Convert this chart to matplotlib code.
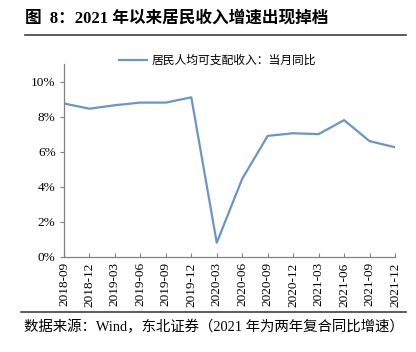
import matplotlib
matplotlib.use("Agg")
import matplotlib.pyplot as plt
from matplotlib.lines import Line2D

plt.rcParams['font.family'] = ['Liberation Serif', 'Noto Sans CJK SC']

# quarterly dates and income growth (%)
dates = ["2018-09", "2018-12", "2019-03", "2019-06", "2019-09", "2019-12", "2020-03",
         "2020-06", "2020-09", "2020-12", "2021-03", "2021-06", "2021-09", "2021-12"]
income_yoy = [8.75, 8.45, 8.65, 8.8, 8.8, 9.1, 0.8, 4.45, 6.9, 7.05, 7.0, 7.8, 6.6, 6.25]
yticks = [0, 2, 4, 6, 8, 10]

line_color = '#6A95C8'
spine_color = '#808080'

fig = plt.figure(figsize=(4.16, 3.52), dpi=100)
ax = fig.add_axes([0.1538, 0.2707, 0.7957, 0.5473])

x = list(range(len(dates)))
ax.plot(x, income_yoy, color=line_color, lw=1.6, label="居民人均可支配收入：当月同比")

ax.set_xlim(0, len(dates) - 1)
ax.set_ylim(0, 11)
ax.set_xticks(x)
ax.set_xticklabels(dates, rotation=90, fontsize=9.5)
ax.set_yticks(yticks)
ax.set_yticklabels([f"{v}%" for v in yticks], fontsize=9.5)

for s in ['top', 'right']:
    ax.spines[s].set_visible(False)
for s in ['left', 'bottom']:
    ax.spines[s].set_color(spine_color)
    ax.spines[s].set_linewidth(0.9)
ax.tick_params(axis='x', direction='in', length=3, color=spine_color, pad=4)
ax.tick_params(axis='y', direction='out', length=3, color=spine_color, pad=3)

leg = ax.legend(loc='center', bbox_to_anchor=(0.464, 1.02), frameon=False,
                handlelength=2.4, handletextpad=0.4,
                prop={'family': ['Noto Sans CJK SC'], 'size': 8.5})

# title and source
fig.text(0.06, 0.948, "图  8：2021 年以来居民收入增速出现掉档", fontsize=12,
         fontweight='bold', ha='left', va='center')
fig.add_artist(Line2D([0.06, 0.975], [0.9, 0.9], color='#404040', lw=1.2))
fig.add_artist(Line2D([0.05, 0.975], [0.113, 0.113], color='#404040', lw=1.2))
fig.text(0.057, 0.072, "数据来源：Wind，东北证券（2021 年为两年复合同比增速）",
         fontsize=10.4, ha='left', va='center')

fig.savefig("out.png", dpi=100)
